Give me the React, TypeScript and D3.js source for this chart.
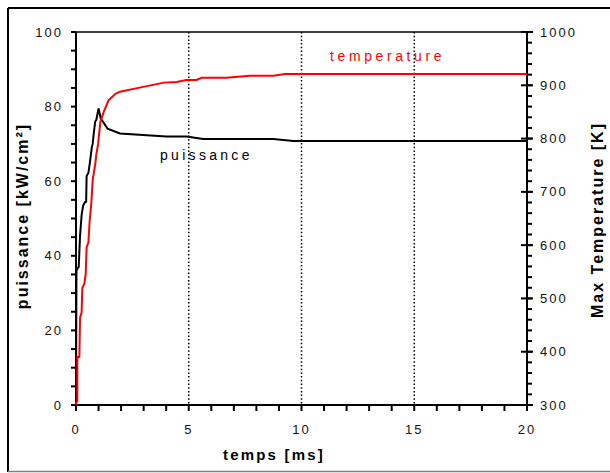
import React from "react";
import * as d3 from "d3";

// time [ms] and puissance [kW/cm²]
const powerTime = [0, 0.02, 0.1, 0.12, 0.18, 0.25, 0.32, 0.4, 0.45, 0.47, 0.55, 0.62, 0.7, 0.74, 0.78, 0.85, 0.9, 1.0, 1.1, 1.4, 1.95, 4.0, 4.9, 5.64, 8.75, 9.64, 20];
const powerValue = [0, 36, 36.9, 37, 45.4, 51, 53.5, 54.4, 54.5, 61.4, 62.2, 65.2, 69, 70, 72.4, 76, 76.4, 79.5, 76.8, 74.1, 72.8, 72, 72, 71.3, 71.3, 70.8, 70.8];

// time [ms] and max temperature [K]
const tempTime = [0, 0.02, 0.06, 0.06, 0.15, 0.18, 0.25, 0.28, 0.37, 0.43, 0.47, 0.55, 0.6, 0.68, 0.74, 0.86, 0.9, 0.98, 1.08, 1.23, 1.45, 1.75, 1.95, 2.98, 3.9, 4.46, 4.9, 5.35, 5.57, 6.67, 7.72, 8.75, 9.27, 20];
const tempValue = [300, 305, 308, 390, 390, 464, 474, 520, 527, 546, 596, 605, 642, 679, 722, 754, 770, 790, 831, 850, 872, 884, 888, 897, 905, 906, 910, 910, 914, 914, 918, 918, 921, 921];

const xTicks = [0, 5, 10, 15, 20];
const leftTicks = [0, 20, 40, 60, 80, 100];
const rightTicks = [300, 400, 500, 600, 700, 800, 900, 1000];
const gridTimes = [5, 10, 15];

const W = 610, H = 473;
const L = 76, R = 527, T = 32, B = 405;
const FONT = "'Liberation Sans', Arial, sans-serif";

export default function App() {
  const x = d3.scaleLinear().domain([0, 20]).range([L, R]);
  const yL = d3.scaleLinear().domain([0, 100]).range([B, T]);
  const yR = d3.scaleLinear().domain([300, 1000]).range([B, T]);

  const powerData = powerTime.map((t, i) => [t, powerValue[i]] as [number, number]);
  const tempData = tempTime.map((t, i) => [t, tempValue[i]] as [number, number]);

  const powerLine = d3.line<[number, number]>().x(d => x(d[0])).y(d => yL(d[1]));
  const tempLine = d3.line<[number, number]>().x(d => x(d[0])).y(d => yR(d[1]));

  const xMinor = d3.range(0, 21, 1);
  const leftMinor = d3.range(0, 101, 5);
  const rightMinor = d3.range(300, 1001, 20);

  return (
    <svg width={W} height={H} style={{ position: "absolute", left: 0, top: 0 }} fontFamily={FONT}>
      <rect x={0} y={0} width={W} height={H} fill="white" />
      {/* outer frame */}
      <line x1={8} x2={W} y1={8} y2={8} stroke="black" strokeWidth={2} />
      <line x1={8} x2={8} y1={8} y2={472} stroke="black" strokeWidth={2} />
      <line x1={8} x2={W} y1={471.5} y2={471.5} stroke="#808080" strokeWidth={1.5} />

      {/* dotted grid */}
      {gridTimes.map(t => (
        <line key={t} x1={x(t)} x2={x(t)} y1={T} y2={B} stroke="black" strokeWidth={1.5} strokeDasharray="1.5,2.2" />
      ))}

      {/* plot frame */}
      <line x1={L} x2={R} y1={T} y2={T} stroke="black" strokeWidth={1.5} />
      <line x1={L} x2={L} y1={T} y2={B} stroke="black" strokeWidth={2} />
      <line x1={R} x2={R} y1={T} y2={B} stroke="black" strokeWidth={2} />
      <line x1={L} x2={R} y1={B} y2={B} stroke="black" strokeWidth={2} />

      {/* bottom ticks */}
      {xMinor.map(t => (
        <line key={t} x1={x(t)} x2={x(t)} y1={B} y2={B + 6} stroke="black" strokeWidth={2} />
      ))}
      {xTicks.map(t => (
        <text key={t} x={x(t)} y={434} textAnchor="middle" fontSize={13} letterSpacing={2} fill="#111">
          {String(t)}
        </text>
      ))}

      {/* left ticks */}
      {leftMinor.map(v => (
        <line key={v} x1={L - 5} x2={L} y1={yL(v)} y2={yL(v)} stroke="black" strokeWidth={2} />
      ))}
      {leftTicks.map(v => (
        <text key={v} x={63} y={yL(v) + 4.5} textAnchor="end" fontSize={13} letterSpacing={2} fill="#111">
          {String(v)}
        </text>
      ))}

      {/* right ticks */}
      {rightMinor.map(v => (
        <line key={v} x1={R} x2={R + 5} y1={yR(v)} y2={yR(v)} stroke="black" strokeWidth={2} />
      ))}
      {rightTicks.map(v => (
        <line key={"M" + v} x1={R - 6} x2={R + 6} y1={yR(v)} y2={yR(v)} stroke="black" strokeWidth={2} />
      ))}
      {rightTicks.map(v => (
        <text key={v} x={540} y={yR(v) + 4.5} textAnchor="start" fontSize={13} letterSpacing={2} fill="#111">
          {String(v)}
        </text>
      ))}

      {/* curves */}
      <path d={powerLine(powerData) ?? ""} fill="none" stroke="black" strokeWidth={2} />
      <path d={tempLine(tempData) ?? ""} fill="none" stroke="#ff0000" strokeWidth={2} />

      {/* annotations */}
      <text x={330} y={61} fontSize={14} letterSpacing={3.6} fill="#ff0000">temperature</text>
      <text x={160} y={160} fontSize={14} letterSpacing={3.3} fill="black">puissance</text>

      {/* axis titles */}
      <text x={274} y={460} textAnchor="middle" fontSize={15} fontWeight="bold" letterSpacing={2.2} fill="black">
        temps [ms]
      </text>
      <text transform="translate(28,216) rotate(-90)" textAnchor="middle" fontSize={16} fontWeight="bold" letterSpacing={2} fill="black">
        puissance [kW/cm²]
      </text>
      <text transform="translate(603,220) rotate(-90)" textAnchor="middle" fontSize={16} fontWeight="bold" letterSpacing={2} fill="black">
        Max Temperature [K]
      </text>
    </svg>
  );
}
